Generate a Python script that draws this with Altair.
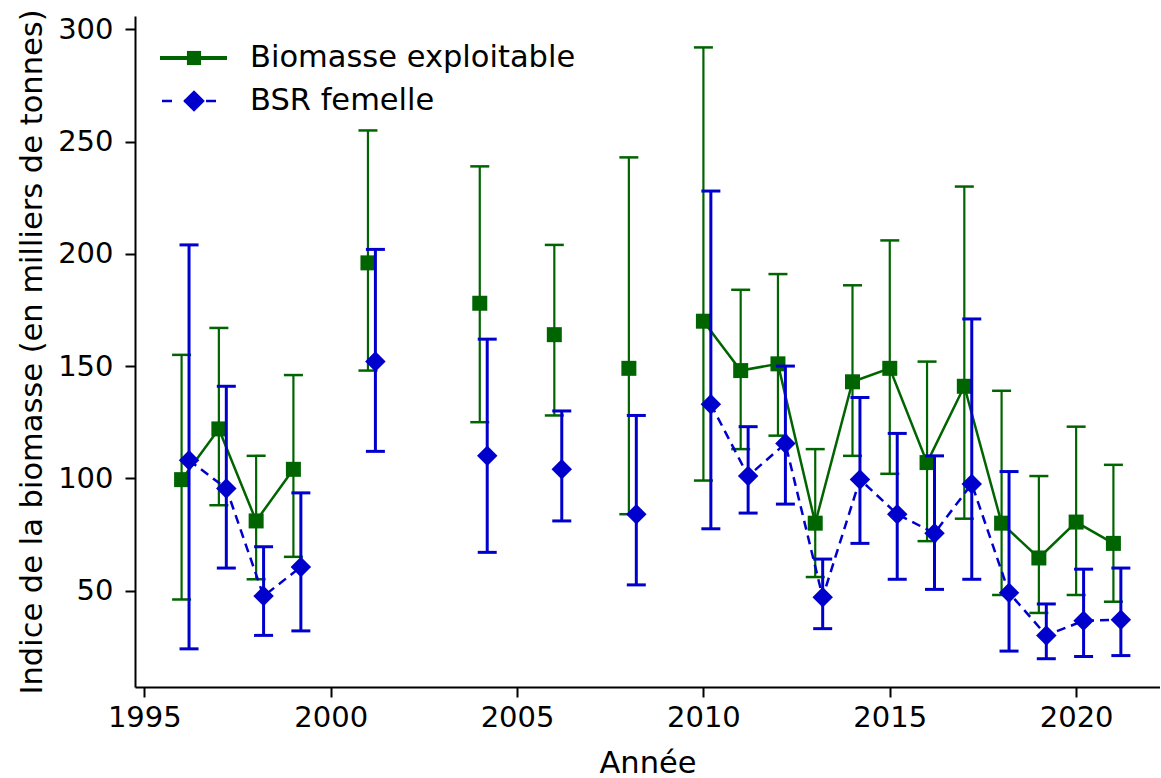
import altair as alt
import pandas as pd

years = [1996, 1997, 1998, 1999, 2001, 2004, 2006, 2008, 2010, 2011,
         2012, 2013, 2014, 2015, 2016, 2017, 2018, 2019, 2020, 2021]

bio_val = [99.4, 122, 81, 104, 196, 178, 164, 149, 170, 148,
           151, 80, 143, 149, 107, 141, 80, 64.5, 80.5, 71]
bio_hi = [155, 167, 110, 146, 255, 239, 204, 243, 292, 184,
          191, 113, 186, 206, 152, 230, 139, 101, 123, 106]
bio_lo = [46, 88, 55, 65, 148, 125, 128, 84, 99, 113,
          119, 56, 110, 102, 72, 82, 48, 40, 48, 45]

bsr_val = [108, 95.5, 47.5, 60.5, 152, 110, 104, 84, 133, 101,
           115.5, 47, 99.5, 84, 75.5, 97.5, 49, 30, 36.5, 37]
bsr_hi = [204, 141, 69.5, 93.5, 202, 162, 130, 128, 228, 123,
          150, 64, 136, 120, 110, 171, 103, 44, 59.5, 60]
bsr_lo = [24, 60, 30, 32, 112, 67, 81, 52.5, 77.5, 84.5,
          88.5, 33, 71, 55, 50.5, 55, 23, 19.6, 20.6, 21]

x_ticks = [1995, 2000, 2005, 2010, 2015, 2020]
y_ticks = [50, 100, 150, 200, 250, 300]
legend_labels = ["Biomasse exploitable", "BSR femelle"]

GREEN = "#006400"
BLUE = "#0000CD"
FONT = "DejaVu Sans"


def segments(yrs):
    seg, out = 0, []
    for i, yv in enumerate(yrs):
        if i > 0 and yv - yrs[i - 1] > 1:
            seg += 1
        out.append(seg)
    return out


seg_ids = segments(years)
df_bio = pd.DataFrame({"year": years, "val": bio_val, "lo": bio_lo, "hi": bio_hi, "seg": seg_ids})
df_bsr = pd.DataFrame({"year": years, "val": bsr_val, "lo": bsr_lo, "hi": bsr_hi, "seg": seg_ids})

xs = alt.Scale(domain=[1994.75, 2022.25], nice=False, zero=False)
ys = alt.Scale(domain=[7, 306], nice=False, zero=False)

X = alt.X("year:Q", scale=xs,
          axis=alt.Axis(values=x_ticks, format="d", title="Année"))
Y = alt.Y("val:Q", scale=ys,
          axis=alt.Axis(values=y_ticks, title="Indice de la biomasse (en milliers de tonnes)"))


def series(df, color, shape, size, bar_w, cap_w, dash, line_w, xoff):
    base = alt.Chart(df)
    rule = base.mark_rule(color=color, strokeWidth=bar_w, xOffset=xoff).encode(
        x=X, y=alt.Y("lo:Q", scale=ys), y2="hi:Q")
    cap_hi = base.mark_tick(color=color, orient="horizontal", size=19, thickness=cap_w,
                            xOffset=xoff, opacity=1).encode(x=X, y=alt.Y("hi:Q", scale=ys))
    cap_lo = base.mark_tick(color=color, orient="horizontal", size=19, thickness=cap_w,
                            xOffset=xoff, opacity=1).encode(x=X, y=alt.Y("lo:Q", scale=ys))
    line_kw = dict(color=color, strokeWidth=line_w, xOffset=xoff)
    if dash:
        line_kw["strokeDash"] = dash
    line = base.mark_line(**line_kw).encode(x=X, y=Y, detail="seg:N")
    pts = base.mark_point(shape=shape, filled=True, size=size, color=color, opacity=1,
                          xOffset=xoff).encode(x=X, y=Y)
    return [rule, cap_hi, cap_lo, line, pts]


layers = series(df_bio, GREEN, "square", 225, 2.2, 2.5, None, 2.5, 0)
layers += series(df_bsr, BLUE, "diamond", 420, 3, 3, [9, 6], 2.5, 7.45)

# legend
leg = alt.Chart(pd.DataFrame({"label": legend_labels}))
leg_bio = leg.transform_filter(alt.datum.label == legend_labels[0])
leg_bsr = leg.transform_filter(alt.datum.label == legend_labels[1])
legend_layers = [
    leg_bio.mark_rule(color=GREEN, strokeWidth=4).encode(
        x=alt.value(25), x2=alt.value(92), y=alt.value(42)),
    leg_bio.mark_point(shape="square", filled=True, size=200, color=GREEN, opacity=1).encode(
        x=alt.value(59), y=alt.value(42)),
    leg_bio.mark_text(align="left", baseline="middle", fontSize=30.5, font=FONT, color="black").encode(
        x=alt.value(115), y=alt.value(42), text="label:N"),
    leg_bsr.mark_rule(color=BLUE, strokeWidth=2.5, strokeDash=[10, 12]).encode(
        x=alt.value(27), x2=alt.value(92), y=alt.value(85)),
    leg_bsr.mark_point(shape="diamond", filled=True, size=470, color=BLUE, opacity=1).encode(
        x=alt.value(59), y=alt.value(85)),
    leg_bsr.mark_text(align="left", baseline="middle", fontSize=30.5, font=FONT, color="black").encode(
        x=alt.value(115), y=alt.value(85), text="label:N"),
]

chart = alt.layer(*layers, *legend_layers).properties(
    width=1025, height=671,
    padding={"left": 135, "top": 16, "right": 0, "bottom": 91},
    autosize=alt.AutoSizeParams(type="none"),
).configure_view(stroke=None).configure_axis(
    grid=False,
    domainColor="black", domainWidth=2,
    tickColor="black", tickWidth=2, tickSize=10,
    labelFont=FONT, labelFontSize=29, labelColor="black",
    titleFont=FONT, titleFontSize=30.5, titleColor="black", titleFontWeight="normal",
).configure_axisX(labelPadding=6, titlePadding=16).configure_axisY(labelPadding=12, titlePadding=10)

chart.save("out.html", embed_options={"renderer": "svg", "actions": False})
